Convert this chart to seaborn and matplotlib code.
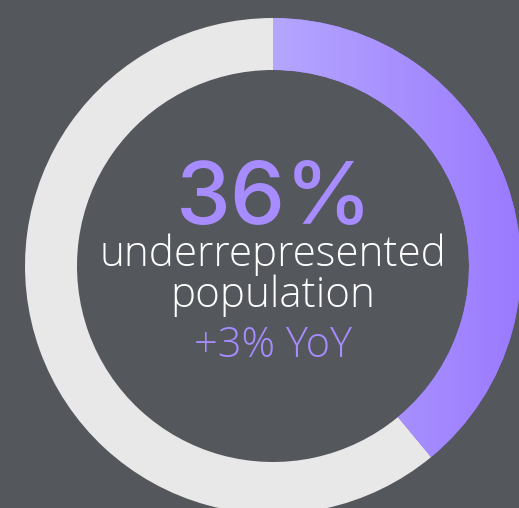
import numpy as np
import matplotlib
matplotlib.use("Agg")
import matplotlib.pyplot as plt
import seaborn as sns
from matplotlib.colors import LinearSegmentedColormap

# Data
segments = ["underrepresented population", "other"]
shares = [39, 61]
headline = "36%"
label_lines = ["underrepresented", "population"]
change_text = "+3% YoY"

BG = "#54575c"
RING_GRAY = "#e8e8e8"
PURPLE_LIGHT = "#b5a6ff"
PURPLE_DARK = "#9a7afe"
TEXT_PURPLE = "#a78cff"

sns.set_theme(style="dark", rc={"axes.facecolor": BG, "figure.facecolor": BG})

W, H = 519, 508
fig = plt.figure(figsize=(W / 100, H / 100), dpi=100)
ax = fig.add_axes([0, 0, 1, 1])
ax.set_facecolor(BG)

cx, cy = 273, H - 266
R, ring_w = 248, 52

palette = [PURPLE_DARK, RING_GRAY]
wedges, _ = ax.pie(shares, colors=palette, startangle=90, counterclock=False,
                   radius=R, center=(cx, cy), frame=True,
                   wedgeprops=dict(width=ring_w, linewidth=0, antialiased=True))

ax.set_xlim(0, W)
ax.set_ylim(0, H)
ax.set_aspect("auto")
ax.axis("off")

# Horizontal gradient on the purple segment
cmap = LinearSegmentedColormap.from_list("pg", [PURPLE_LIGHT, PURPLE_DARK])
grad = np.linspace(0, 1, 256).reshape(1, -1)
im = ax.imshow(grad, cmap=cmap, extent=(cx, cx + R, cy - R, cy + R),
               aspect="auto", zorder=wedges[0].get_zorder() + 0.1, interpolation="bilinear")
im.set_clip_path(wedges[0])

ax.set_xlim(0, W)
ax.set_ylim(0, H)

ax.text(cx + 1, H - 224, headline, ha="center", va="baseline", color=TEXT_PURPLE,
        fontsize=63, fontweight=500, family=["Inter", "Lato", "DejaVu Sans"])
ax.text(cx, H - 266, label_lines[0], ha="center", va="baseline", color="white",
        fontsize=30.3, fontweight="light", family=["Open Sans", "DejaVu Sans"])
ax.text(cx, H - 307, label_lines[1], ha="center", va="baseline", color="white",
        fontsize=30.3, fontweight="light", family=["Open Sans", "DejaVu Sans"])
ax.text(cx, H - 357, change_text, ha="center", va="baseline", color=TEXT_PURPLE,
        fontsize=30, fontweight="light", family=["Open Sans", "DejaVu Sans"])

fig.savefig("out.png", dpi=100, facecolor=BG)
